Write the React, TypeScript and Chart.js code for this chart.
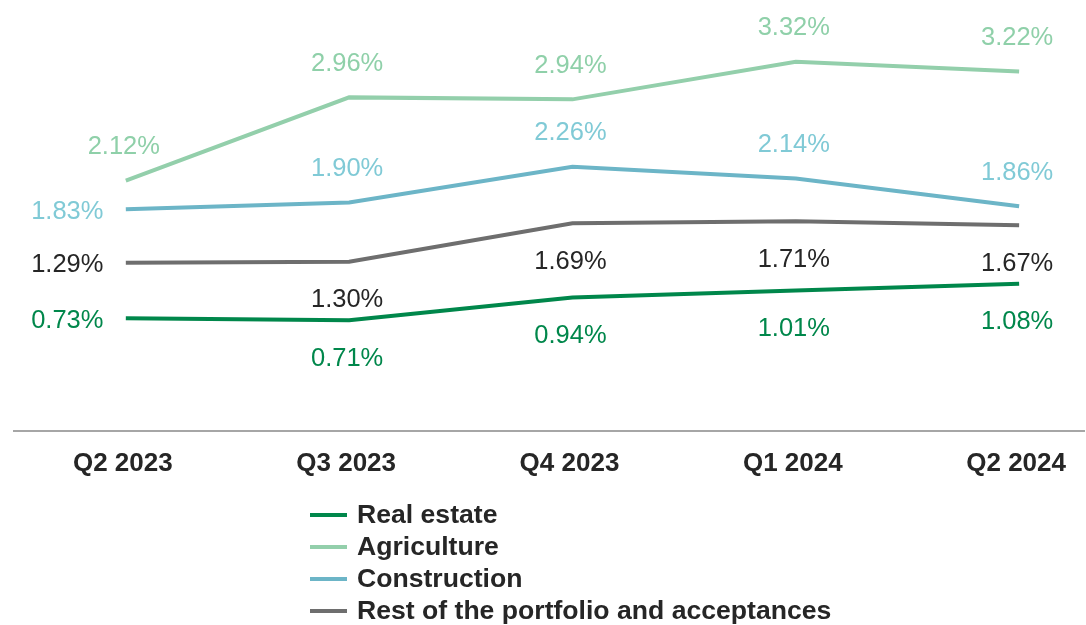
import React, { useEffect, useRef } from "react";
import { Chart, registerables } from "chart.js";

Chart.register(...registerables);

const categories = ["Q2 2023", "Q3 2023", "Q4 2023", "Q1 2024", "Q2 2024"];
const seriesNames = ["Real estate", "Agriculture", "Construction", "Rest of the portfolio and acceptances"];
const realEstate = [0.73, 0.71, 0.94, 1.01, 1.08];
const agriculture = [2.12, 2.96, 2.94, 3.32, 3.22];
const construction = [1.83, 1.9, 2.26, 2.14, 1.86];
const restPortfolio = [1.29, 1.3, 1.69, 1.71, 1.67];

const lineColors = ["#00874b", "#93cfab", "#6cb5c7", "#6e6e6e"];
const labelColors = ["#00874b", "#8fd0a9", "#80cad6", "#262626"];
// label placement per point: a = above, b = below, l = left
const placements = [
  ["l", "b", "b", "b", "b"],
  ["a", "a", "a", "a", "a"],
  ["l", "a", "a", "a", "a"],
  ["l", "b", "b", "b", "b"],
];

const FONT = "'Liberation Sans', Arial, Helvetica, sans-serif";

const labelPlugin = {
  id: "pointLabels",
  afterDatasetsDraw(chart: any) {
    const ctx = chart.ctx;
    ctx.save();
    ctx.font = `25.5px ${FONT}`;
    ctx.textBaseline = "middle";
    ctx.textAlign = "center";
    chart.data.datasets.forEach((ds: any, di: number) => {
      const meta = chart.getDatasetMeta(di);
      meta.data.forEach((pt: any, i: number) => {
        const v = ds.data[i].y;
        const txt = v.toFixed(2) + "%";
        const p = placements[di][i];
        let x = pt.x - 2;
        let y = pt.y + 2.5;
        if (p === "a") y -= 36;
        else if (p === "b") y += 36;
        else x = pt.x - 58.5;
        ctx.fillStyle = labelColors[di];
        ctx.fillText(txt, x, y);
      });
    });
    ctx.restore();
  },
  afterDraw(chart: any) {
    const ctx = chart.ctx;
    ctx.save();
    ctx.font = `bold 26.6px ${FONT}`;
    ctx.textBaseline = "middle";
    ctx.textAlign = "left";
    seriesNames.forEach((name, i) => {
      const y = 515 + i * 32;
      ctx.strokeStyle = lineColors[i];
      ctx.lineWidth = 4;
      ctx.beginPath();
      ctx.moveTo(310, y);
      ctx.lineTo(347, y);
      ctx.stroke();
      ctx.fillStyle = "#262626";
      ctx.fillText(name, 357, y + 1);
    });
    ctx.restore();
  },
};

export default function App() {
  const ref = useRef<HTMLCanvasElement>(null);
  useEffect(() => {
    let chart: any = null;
    let cancelled = false;
    const build = () => {
      if (cancelled || !ref.current) return;
      const all = [realEstate, agriculture, construction, restPortfolio];
      chart = new Chart(ref.current, {
        type: "line",
        data: {
          datasets: all.map((arr, di) => ({
            label: seriesNames[di],
            data: arr.map((v, i) => ({ x: i, y: v })),
            borderColor: lineColors[di],
            backgroundColor: lineColors[di],
            borderWidth: 4,
            pointRadius: 0,
            tension: 0,
            fill: false,
          })),
        },
        options: {
          animation: false,
          responsive: false,
          layout: { padding: { top: 10, left: 14, right: 0, bottom: 0 } },
          plugins: { legend: { display: false }, tooltip: { enabled: false } },
          scales: {
            x: {
              type: "linear",
              min: -0.5007,
              max: 4.2915,
              grid: { display: false, drawTicks: false },
              border: { display: true, color: "#a6a6a6", width: 2 },
              afterBuildTicks: (s: any) => {
                s.ticks = categories.map((_, i) => ({ value: i }));
              },
              afterFit: (s: any) => {
                s.height = 194;
              },
              ticks: {
                autoSkip: false,
                maxRotation: 0,
                padding: 17,
                labelOffset: -3,
                color: "#262626",
                font: { family: FONT, size: 26, weight: "bold" },
                callback: (v: any) => categories[Math.round(Number(v))] ?? "",
              },
            },
            y: {
              display: false,
              min: -0.4076,
              max: 3.842,
            },
          },
        },
        plugins: [labelPlugin],
      } as any);
    };
    const fonts: any = (document as any).fonts;
    if (fonts && fonts.load) {
      Promise.all([
        fonts.load(`25px "Liberation Sans"`),
        fonts.load(`bold 26px "Liberation Sans"`),
      ]).then(build, build);
    } else build();
    return () => {
      cancelled = true;
      if (chart) chart.destroy();
    };
  }, []);
  return (
    <div style={{ position: "absolute", left: 0, top: 0, width: 1086, height: 625, background: "#fff", fontFamily: FONT }}>
      <canvas ref={ref} width={1086} height={625} style={{ display: "block" }} />
    </div>
  );
}
